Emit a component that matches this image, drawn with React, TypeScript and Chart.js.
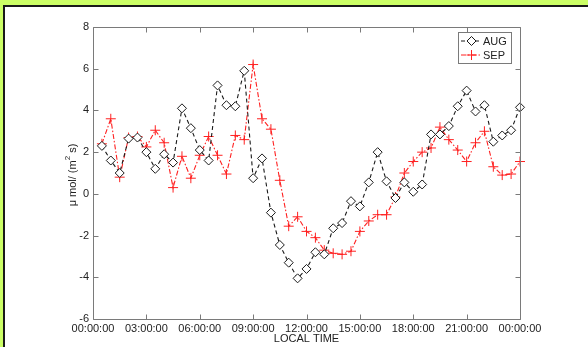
import React, { useEffect, useRef } from "react";
import { Chart, registerables } from "chart.js";

Chart.register(...registerables);

// Local time (hours) of each half-hourly value
const TIMES = [
  0.5, 1, 1.5, 2, 2.5, 3, 3.5, 4, 4.5, 5, 5.5, 6, 6.5, 7, 7.5, 8,
  8.5, 9, 9.5, 10, 10.5, 11, 11.5, 12, 12.5, 13, 13.5, 14, 14.5, 15, 15.5, 16,
  16.5, 17, 17.5, 18, 18.5, 19, 19.5, 20, 20.5, 21, 21.5, 22, 22.5, 23, 23.5, 24,
];

const AUG = [
  2.3, 1.6, 1.0, 2.65, 2.7, 2.0, 1.2, 1.9, 1.5, 4.1, 3.15, 2.1, 1.6, 5.2, 4.25, 4.2,
  5.9, 0.75, 1.7, -0.9, -2.45, -3.3, -4.05, -3.6, -2.8, -2.9, -1.65, -1.4, -0.35, -0.6, 0.55, 2.0,
  0.6, -0.2, 0.55, 0.1, 0.45, 2.85, 2.85, 3.25, 4.2, 4.95, 3.95, 4.25, 2.5, 2.8, 3.05, 4.15,
];

const SEP = [
  2.4, 3.6, 0.8, 2.7, 2.75, 2.25, 3.05, 2.45, 0.3, 1.8, 0.75, 1.85, 2.75, 1.85, 0.95, 2.8,
  2.6, 6.2, 3.6, 3.1, 0.65, -1.55, -1.1, -1.8, -2.1, -2.7, -2.85, -2.9, -2.75, -1.8, -1.3, -1.0,
  -1.0, -0.15, 1.0, 1.55, 2.0, 2.2, 3.2, 2.6, 2.1, 1.55, 2.45, 3.0, 1.3, 0.9, 0.95, 1.55,
];

const SERIES_NAMES = ["AUG", "SEP"];
const X_TICKS = [0, 3, 6, 9, 12, 15, 18, 21, 24];
const X_TICK_LABELS = [
  "00:00:00", "03:00:00", "06:00:00", "09:00:00", "12:00:00",
  "15:00:00", "18:00:00", "21:00:00", "00:00:00",
];
const Y_TICKS = [-6, -4, -2, 0, 2, 4, 6, 8];
const X_TITLE = "LOCAL TIME";
const Y_TITLE_PARTS = ["\u03bc mol/ (m", "2", " s)"];

const FONT = "'Liberation Sans', Arial, Helvetica, sans-serif";
const AUG_COLOR = "#1a1a1a";
const SEP_COLOR = "#ff2020";
const AXIS_COLOR = "#7a7a7a";
const TEXT_COLOR = "#222222";

function drawDiamond(ctx: CanvasRenderingContext2D, x: number, y: number, r: number) {
  ctx.beginPath();
  ctx.moveTo(x - r, y);
  ctx.lineTo(x, y - r);
  ctx.lineTo(x + r, y);
  ctx.lineTo(x, y + r);
  ctx.closePath();
  ctx.fillStyle = "#ffffff";
  ctx.fill();
  ctx.stroke();
}

function drawPlus(ctx: CanvasRenderingContext2D, x: number, y: number, r: number) {
  ctx.beginPath();
  ctx.moveTo(x - r, y);
  ctx.lineTo(x + r, y);
  ctx.moveTo(x, y - r);
  ctx.lineTo(x, y + r);
  ctx.stroke();
}

const framePlugin = {
  id: "matlabFrame",
  afterDraw(chart: any) {
    const ctx: CanvasRenderingContext2D = chart.ctx;
    const { left, right, top, bottom } = chart.chartArea;
    const xs = chart.scales.x;
    const ys = chart.scales.y;
    ctx.save();
    // box
    ctx.strokeStyle = AXIS_COLOR;
    ctx.lineWidth = 1;
    ctx.setLineDash([]);
    const L = Math.round(left) + 0.5;
    const R = Math.round(right) + 0.5;
    const T = Math.round(top) + 0.5;
    const B = Math.round(bottom) + 0.5;
    ctx.beginPath();
    ctx.rect(L, T, R - L, B - T);
    ctx.stroke();
    // inward ticks
    const tl = 5;
    ctx.beginPath();
    X_TICKS.forEach((v) => {
      const px = Math.round(xs.getPixelForValue(v)) + 0.5;
      ctx.moveTo(px, B);
      ctx.lineTo(px, B - tl);
      ctx.moveTo(px, T);
      ctx.lineTo(px, T + tl);
    });
    Y_TICKS.forEach((v) => {
      const py = Math.round(ys.getPixelForValue(v)) + 0.5;
      ctx.moveTo(L, py);
      ctx.lineTo(L + tl, py);
      ctx.moveTo(R, py);
      ctx.lineTo(R - tl, py);
    });
    ctx.stroke();

    // x title
    ctx.fillStyle = TEXT_COLOR;
    ctx.font = `11px ${FONT}`;
    ctx.textAlign = "center";
    ctx.textBaseline = "middle";
    ctx.fillText(X_TITLE, (left + right) / 2, 339);

    // y title (rotated, with superscript)
    const big = `11px ${FONT}`;
    const small = `8px ${FONT}`;
    ctx.font = big;
    const w0 = ctx.measureText(Y_TITLE_PARTS[0]).width;
    const w2 = ctx.measureText(Y_TITLE_PARTS[2]).width;
    ctx.font = small;
    const w1 = ctx.measureText(Y_TITLE_PARTS[1]).width;
    const total = w0 + w1 + w2;
    ctx.translate(73, (top + bottom) / 2 + 2);
    ctx.rotate(-Math.PI / 2);
    ctx.textAlign = "left";
    let cx = -total / 2;
    ctx.font = big;
    ctx.fillText(Y_TITLE_PARTS[0], cx, 0);
    cx += w0;
    ctx.font = small;
    ctx.fillText(Y_TITLE_PARTS[1], cx, -5);
    cx += w1;
    ctx.font = big;
    ctx.fillText(Y_TITLE_PARTS[2], cx, 0);
    ctx.setTransform(1, 0, 0, 1, 0, 0);

    // legend
    const lx = 458;
    const ly = 32;
    const lw = 53;
    const lh = 31;
    ctx.fillStyle = "#ffffff";
    ctx.fillRect(lx, ly, lw, lh);
    ctx.strokeStyle = AXIS_COLOR;
    ctx.lineWidth = 1;
    ctx.strokeRect(lx + 0.5, ly + 0.5, lw, lh);
    const rows = [
      { y: ly + 9, color: AUG_COLOR, dash: [4, 3], marker: "d" },
      { y: ly + 23, color: SEP_COLOR, dash: [5, 2, 1.5, 2], marker: "+" },
    ];
    rows.forEach((row, i) => {
      ctx.strokeStyle = row.color;
      ctx.lineWidth = 1;
      ctx.setLineDash(row.dash);
      ctx.beginPath();
      ctx.moveTo(lx + 3, row.y);
      ctx.lineTo(lx + 24, row.y);
      ctx.stroke();
      ctx.setLineDash([]);
      if (row.marker === "d") drawDiamond(ctx, lx + 13.5, row.y, 4.5);
      else {
        ctx.lineWidth = 1;
        drawPlus(ctx, lx + 13.5, row.y, 5);
      }
      ctx.fillStyle = TEXT_COLOR;
      ctx.font = `11px ${FONT}`;
      ctx.textAlign = "left";
      ctx.textBaseline = "middle";
      ctx.fillText(SERIES_NAMES[i], lx + 25, row.y + 0.5);
    });
    ctx.restore();
  },
};

export default function App() {
  const canvasRef = useRef<HTMLCanvasElement | null>(null);

  useEffect(() => {
    const canvas = canvasRef.current;
    if (!canvas) return;
    const chart = new Chart(canvas, {
      type: "line",
      data: {
        datasets: [
          {
            label: SERIES_NAMES[0],
            data: TIMES.map((t, i) => ({ x: t, y: AUG[i] })),
            borderColor: AUG_COLOR,
            borderWidth: 1.1,
            borderDash: [4, 3],
            pointStyle: "rectRot",
            pointRadius: 4.5,
            pointBorderColor: AUG_COLOR,
            pointBorderWidth: 1,
            pointBackgroundColor: "#ffffff",
            tension: 0,
            fill: false,
            clip: false as any,
          },
          {
            label: SERIES_NAMES[1],
            data: TIMES.map((t, i) => ({ x: t, y: SEP[i] })),
            borderColor: SEP_COLOR,
            borderWidth: 1.1,
            borderDash: [5, 2, 1.5, 2],
            pointStyle: "cross",
            pointRadius: 5,
            pointBorderColor: SEP_COLOR,
            pointBorderWidth: 1,
            pointBackgroundColor: SEP_COLOR,
            tension: 0,
            fill: false,
            clip: false as any,
          },
        ],
      },
      options: {
        responsive: false,
        animation: false,
        events: [],
        layout: { padding: { top: 27, right: 68, left: 0, bottom: 0 } },
        plugins: {
          legend: { display: false },
          tooltip: { enabled: false },
          title: { display: false },
        },
        scales: {
          x: {
            type: "linear",
            min: 0,
            max: 24,
            afterBuildTicks: (s: any) => {
              s.ticks = X_TICKS.map((v) => ({ value: v }));
            },
            afterFit: (s: any) => {
              s.height = 28;
            },
            ticks: {
              autoSkip: false,
              maxRotation: 0,
              padding: 3,
              color: TEXT_COLOR,
              font: { family: FONT, size: 11 },
              callback: (v: any) => X_TICK_LABELS[X_TICKS.indexOf(Number(v))],
            },
            grid: { display: false, drawTicks: false },
            border: { display: false },
          },
          y: {
            type: "linear",
            min: -6,
            max: 8,
            afterBuildTicks: (s: any) => {
              s.ticks = Y_TICKS.map((v) => ({ value: v }));
            },
            afterFit: (s: any) => {
              s.width = 93;
            },
            ticks: {
              padding: 4,
              color: TEXT_COLOR,
              font: { family: FONT, size: 11 },
              callback: (v: any) => String(v),
            },
            grid: { display: false, drawTicks: false },
            border: { display: false },
          },
        },
      },
      plugins: [framePlugin],
    } as any);
    return () => chart.destroy();
  }, []);

  return (
    <div
      style={{
        position: "fixed",
        left: 0,
        top: 0,
        width: 588,
        height: 347,
        background: "#ccff66",
        overflow: "hidden",
      }}
    >
      <div
        style={{
          position: "absolute",
          left: 3,
          top: 5,
          width: 600,
          height: 360,
          background: "#ffffff",
          border: "2px solid #1a1a1a",
        }}
      />
      <canvas
        ref={canvasRef}
        width={588}
        height={347}
        style={{ position: "absolute", left: 0, top: 0, width: 588, height: 347 }}
      />
    </div>
  );
}
